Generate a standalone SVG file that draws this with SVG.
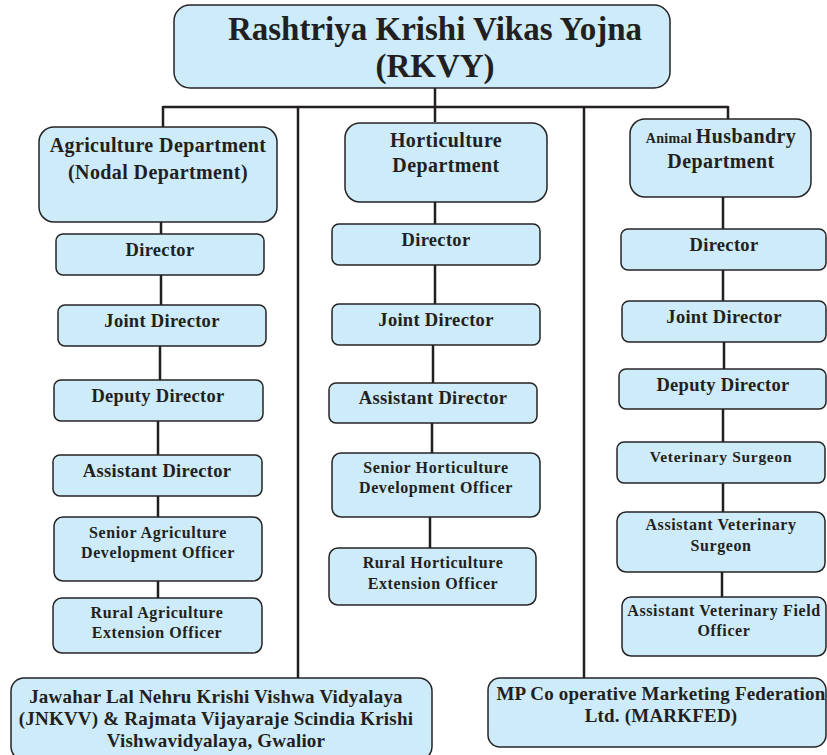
<svg xmlns="http://www.w3.org/2000/svg" width="827" height="755" viewBox="0 0 827 755">
<style>
.box{fill:#cdebf8;stroke:#262324;stroke-width:1.5}
.ln{stroke:#231f20;stroke-width:2.5;fill:none}
.t{font-family:"Liberation Serif","Times New Roman",serif;font-weight:bold;fill:#231f20;text-anchor:middle}
.big{font-size:20px;letter-spacing:0.4px}
.bot{font-size:19px;letter-spacing:0.2px}
.mid{font-size:18.5px;letter-spacing:0.3px}
.sm{font-size:16px;letter-spacing:0.6px}
</style>
<rect width="827" height="755" fill="#ffffff"/>
<g id="connectors">
<path class="ln" d="M435 88V122M163 107H728M163 106V127M298 106V678M584 106V680M728 106V119"/>
<path class="ln" d="M161 222V234M161 275V305M160 346V380M158 421V455M158 496V517M158 581V598"/>
<path class="ln" d="M435 202V224M435 265V304M433 345V383M432 423V453M430 517V548"/>
<path class="ln" d="M723 197V229M723 270V301M724 342V369M723 409V442M723 483V512M722 572V597"/>
</g>
<g id="rkvy"><rect class="box" x="174" y="5" width="496" height="83" rx="16"/>
<text class="t" x="435" y="40" font-size="33">Rashtriya Krishi Vikas Yojna</text>
<text class="t" x="435" y="77" font-size="33">(RKVY)</text></g>

<g id="agri"><rect class="box" x="39" y="127" width="238" height="95" rx="15"/>
<text class="t big" x="158" y="152">Agriculture Department</text>
<text class="t big" x="158" y="179">(Nodal Department)</text></g>
<g id="agri-director"><rect class="box" x="56" y="234" width="208" height="41" rx="7"/><text class="t mid" x="160" y="256">Director</text></g>
<g id="agri-joint"><rect class="box" x="58" y="305" width="208" height="41" rx="7"/><text class="t mid" x="162" y="327">Joint Director</text></g>
<g id="agri-deputy"><rect class="box" x="54" y="380" width="209" height="41" rx="7"/><text class="t mid" x="158" y="402">Deputy Director</text></g>
<g id="agri-assistant"><rect class="box" x="53" y="455" width="209" height="41" rx="7"/><text class="t mid" x="157" y="477">Assistant Director</text></g>
<g id="agri-sado"><rect class="box" x="54" y="517" width="208" height="64" rx="9"/>
<text class="t sm" x="158" y="538">Senior Agriculture</text><text class="t sm" x="158" y="558">Development Officer</text></g>
<g id="agri-raeo"><rect class="box" x="53" y="598" width="209" height="55" rx="9"/>
<text class="t sm" x="157" y="618">Rural Agriculture</text><text class="t sm" x="157" y="638">Extension Officer</text></g>

<g id="horti"><rect class="box" x="345" y="123" width="202" height="79" rx="15"/>
<text class="t big" x="446" y="147">Horticulture</text><text class="t big" x="446" y="172">Department</text></g>
<g id="horti-director"><rect class="box" x="332" y="224" width="208" height="41" rx="7"/><text class="t mid" x="436" y="246">Director</text></g>
<g id="horti-joint"><rect class="box" x="332" y="304" width="208" height="41" rx="7"/><text class="t mid" x="436" y="326">Joint Director</text></g>
<g id="horti-assistant"><rect class="box" x="329" y="383" width="208" height="40" rx="7"/><text class="t mid" x="433" y="404">Assistant Director</text></g>
<g id="horti-shdo"><rect class="box" x="332" y="453" width="208" height="64" rx="9"/>
<text class="t sm" x="436" y="473">Senior Horticulture</text><text class="t sm" x="436" y="493">Development Officer</text></g>
<g id="horti-rheo"><rect class="box" x="329" y="548" width="207" height="57" rx="9"/>
<text class="t sm" x="433" y="568">Rural Horticulture</text><text class="t sm" x="433" y="589">Extension Officer</text></g>

<g id="animal"><rect class="box" x="630" y="119" width="181" height="78" rx="15"/>
<text class="t" x="721" y="143"><tspan font-size="14" letter-spacing="0.3">Animal </tspan><tspan font-size="20" letter-spacing="0.4">Husbandry</tspan></text>
<text class="t big" x="721" y="168">Department</text></g>
<g id="animal-director"><rect class="box" x="621" y="229" width="205" height="41" rx="7"/><text class="t mid" x="724" y="251">Director</text></g>
<g id="animal-joint"><rect class="box" x="622" y="301" width="204" height="41" rx="7"/><text class="t mid" x="724" y="323">Joint Director</text></g>
<g id="animal-deputy"><rect class="box" x="619" y="369" width="207" height="40" rx="7"/><text class="t mid" x="723" y="391">Deputy Director</text></g>
<g id="animal-vs"><rect class="box" x="617" y="442" width="208" height="41" rx="7"/><text class="t" x="721" y="462" font-size="15.5" letter-spacing="0.7">Veterinary Surgeon</text></g>
<g id="animal-avs"><rect class="box" x="617" y="512" width="208" height="60" rx="9"/>
<text class="t sm" x="721" y="530">Assistant Veterinary</text><text class="t sm" x="721" y="551">Surgeon</text></g>
<g id="animal-avfo"><rect class="box" x="622" y="597" width="204" height="59" rx="9"/>
<text class="t sm" x="724" y="616">Assistant Veterinary Field</text><text class="t sm" x="724" y="636">Officer</text></g>

<g id="jnkvv"><rect class="box" x="11" y="678" width="421" height="82" rx="13"/>
<text class="t bot" x="216" y="703">Jawahar Lal Nehru Krishi Vishwa Vidyalaya</text>
<text class="t bot" x="216" y="725">(JNKVV) &amp; Rajmata Vijayaraje Scindia Krishi</text>
<text class="t bot" x="216" y="747">Vishwavidyalaya, Gwalior</text></g>
<g id="markfed"><rect class="box" x="488" y="678" width="338" height="69" rx="12"/>
<text class="t bot" x="661" y="700" letter-spacing="0">MP Co operative Marketing Federation</text>
<text class="t bot" x="661" y="722">Ltd. (MARKFED)</text></g>
</svg>
